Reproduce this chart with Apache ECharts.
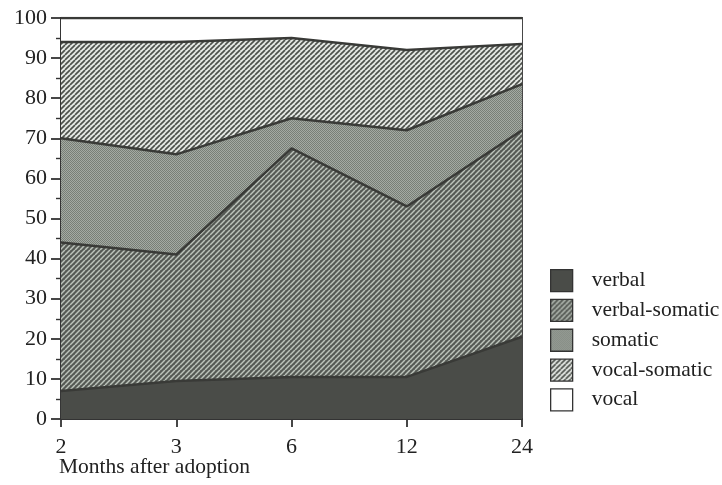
<!DOCTYPE html>
<html>
<head>
<meta charset="utf-8">
<script src="https://cdn.jsdelivr.net/npm/echarts@6/dist/echarts.min.js"></script>
<style>html,body{margin:0;padding:0;background:#fff;}#c{width:722px;height:485px;}</style>
</head>
<body>
<div id="c"></div>
<script>
// ---- data ----
const categories = ['2', '3', '6', '12', '24'];
const verbal = [7, 9.5, 10.5, 10.5, 20.5];
const verbalSomatic = [37, 31.5, 57, 42.5, 51.5];
const somatic = [26, 25, 7.5, 19, 11.5];
const vocalSomatic = [24, 28, 20, 20, 10];
const vocal = [6, 6, 5, 8, 6.5];
const seriesNames = ['verbal', 'verbal-somatic', 'somatic', 'vocal-somatic', 'vocal'];
const yTicks = [0, 10, 20, 30, 40, 50, 60, 70, 80, 90, 100];

// ---- patterns ----
function stripePattern(bg, fg, s, lw) {
  const c = document.createElement('canvas');
  c.width = s; c.height = s;
  const x = c.getContext('2d');
  x.fillStyle = bg; x.fillRect(0, 0, s, s);
  x.strokeStyle = fg; x.lineWidth = lw;
  for (const k of [-s, 0, s]) {
    x.beginPath(); x.moveTo(k, s); x.lineTo(k + s, 0); x.stroke();
  }
  return { image: c, repeat: 'repeat' };
}
function checkerPattern(a, b) {
  const c = document.createElement('canvas');
  c.width = 2; c.height = 2;
  const x = c.getContext('2d');
  x.fillStyle = a; x.fillRect(0, 0, 2, 2);
  x.fillStyle = b; x.fillRect(0, 0, 1, 1); x.fillRect(1, 1, 1, 1);
  return { image: c, repeat: 'repeat' };
}
const fills = [
  '#4a4c48',
  stripePattern('#565a55', '#bcc3bb', 5, 1.5),
  checkerPattern('#a4aaa3', '#787f77'),
  stripePattern('#e6e9e5', '#4d514c', 5, 1.7),
  '#ffffff'
];
const values = [verbal, verbalSomatic, somatic, vocalSomatic, vocal];
const lineColor = '#393a37';
const font = 'Liberation Serif';

const chart = echarts.init(document.getElementById('c'), null, { renderer: 'canvas' });
chart.setOption({
  animation: false,
  backgroundColor: '#ffffff',
  grid: { left: 61, right: 200, top: 18, bottom: 66, show: true, borderColor: '#333', borderWidth: 1.8, containLabel: false },
  title: {
    text: 'Months after adoption', left: 54, top: 451,
    textStyle: { fontFamily: font, fontSize: 21.5, fontWeight: 'normal', color: '#222' }
  },
  legend: {
    orient: 'vertical', left: 545, top: 264, itemWidth: 22, itemHeight: 22, itemGap: 6.5,
    icon: 'rect',
    textStyle: { fontFamily: font, fontSize: 21.5, lineHeight: 22, color: '#222', padding: [0, 0, 0, 14] },
    data: seriesNames.map((n, i) => ({ name: n, itemStyle: { color: fills[i], borderColor: '#333', borderWidth: 1.3 } }))
  },
  xAxis: {
    type: 'category', data: categories, boundaryGap: false,
    axisLine: { lineStyle: { color: '#333', width: 1.8 } },
    axisTick: { alignWithLabel: true, length: 8, lineStyle: { color: '#333', width: 1.8 } },
    axisLabel: { fontFamily: font, fontSize: 22, color: '#222', margin: 17 },
    splitLine: { show: false }
  },
  yAxis: {
    type: 'value', min: yTicks[0], max: yTicks[yTicks.length - 1], interval: 10,
    axisLine: { show: true, lineStyle: { color: '#333', width: 1.8 } },
    axisTick: { show: true, inside: false, length: 10, lineStyle: { color: '#333', width: 1.8 } },
    minorTick: { show: true, splitNumber: 2, length: 5, lineStyle: { color: '#333', width: 1.4 } },
    axisLabel: { fontFamily: font, fontSize: 22, color: '#222', margin: 14 },
    splitLine: { show: false }
  },
  series: values.map((v, i) => ({
    name: seriesNames[i], type: 'line', stack: 'total', data: v,
    symbol: 'none', smooth: false,
    lineStyle: { color: lineColor, width: 2.5 },
    itemStyle: { color: fills[i] },
    areaStyle: { color: fills[i], opacity: 1 },
    z: 2
  }))
});
</script>
</body>
</html>
